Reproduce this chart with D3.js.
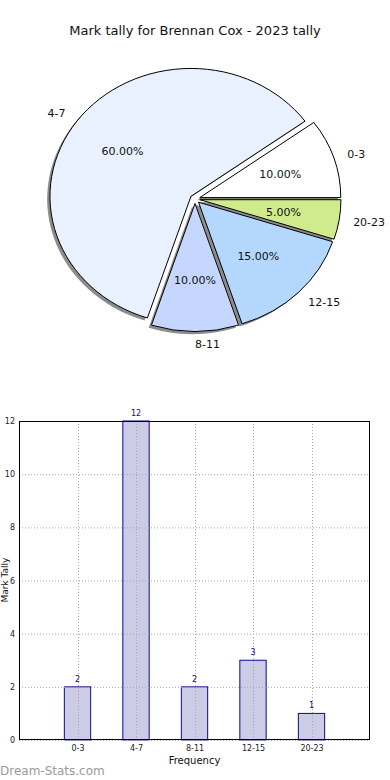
<!DOCTYPE html>
<html>
<head>
<meta charset="utf-8">
<script src="https://cdn.jsdelivr.net/npm/d3@7"></script>
<style>
  body { margin: 0; background: #fff; }
  svg { display: block; font-family: "DejaVu Sans", sans-serif; }
</style>
</head>
<body>
<div id="chart"></div>
<script>
const categories = ['0-3', '4-7', '8-11', '12-15', '20-23'];
const tallies = [2, 12, 2, 3, 1];
const sliceColors = ['#ffffff', '#eaf1fe', '#c5d7fe', '#b4d7fe', '#cfeb8b'];
const yTicks = [0, 2, 4, 6, 8, 10, 12];

const width = 390;
const height = 780;

const svg = d3.select('#chart')
  .append('svg')
  .attr('width', width)
  .attr('height', height);

svg.append('text')
  .attr('x', 195)
  .attr('y', 35)
  .attr('text-anchor', 'middle')
  .style('font-size', '13px')
  .style('fill', '#111')
  .text('Mark tally for Brennan Cox - 2023 tally');

// ---- pie (matplotlib style: starts at 3 o'clock, counter-clockwise, squashed) ----
const cx = 195, cy = 199;
const radius = 141;
const squash = 0.907;
const explode = 5;
const total = d3.sum(tallies);

// d3 angles: 0 at 12 o'clock clockwise. math angle a -> d3 angle PI/2 - a
const pie = d3.pie().sort(null).value(d => d)
  .startAngle(Math.PI / 2)
  .endAngle(Math.PI / 2 - 2 * Math.PI);

const arcs = pie(tallies);
const arc = d3.arc().innerRadius(0).outerRadius(radius);

const pieG = svg.append('g');

function midMath(d) {
  const m = (d.startAngle + d.endAngle) / 2;
  return Math.PI / 2 - m;
}

function offset(d, dist) {
  const a = midMath(d);
  return [cx + dist * Math.cos(a), cy - dist * Math.sin(a) * squash];
}

// shadows first
pieG.selectAll('.shadow')
  .data(arcs)
  .enter()
  .append('path')
  .attr('class', 'shadow')
  .attr('transform', d => {
    const [x, y] = offset(d, explode);
    return `translate(${x - 2.8}, ${y + 2.6}) scale(1, ${squash})`;
  })
  .attr('d', arc)
  .attr('fill', '#000')
  .attr('opacity', 0.45);

pieG.selectAll('.slice')
  .data(arcs)
  .enter()
  .append('path')
  .attr('class', 'slice')
  .attr('transform', d => {
    const [x, y] = offset(d, explode);
    return `translate(${x}, ${y}) scale(1, ${squash})`;
  })
  .attr('d', arc)
  .attr('fill', (d, i) => sliceColors[i])
  .attr('stroke', '#000')
  .attr('stroke-width', 1)
  .attr('vector-effect', 'non-scaling-stroke');

pieG.selectAll('.label')
  .data(arcs)
  .enter()
  .append('text')
  .attr('class', 'label')
  .attr('x', d => offset(d, radius * 1.1 + explode)[0])
  .attr('y', d => offset(d, radius * 1.1 + explode)[1])
  .attr('dy', '0.35em')
  .attr('text-anchor', d => Math.cos(midMath(d)) > -1e-6 ? 'start' : 'end')
  .style('font-size', '11px')
  .style('fill', '#111')
  .text((d, i) => categories[i]);

pieG.selectAll('.pct')
  .data(arcs)
  .enter()
  .append('text')
  .attr('class', 'pct')
  .attr('x', d => offset(d, radius * 0.6 + explode)[0])
  .attr('y', d => offset(d, radius * 0.6 + explode)[1])
  .attr('dy', '0.35em')
  .attr('text-anchor', 'middle')
  .style('font-size', '11px')
  .style('fill', '#111')
  .text(d => (d.value / total * 100).toFixed(2) + '%');

// ---- bar chart ----
const plot = { left: 19, right: 370, top: 421, bottom: 740 };

const x = d3.scaleLinear()
  .domain([0, categories.length + 1])
  .range([plot.left, plot.right]);

const y = d3.scaleLinear()
  .domain([0, 12])
  .range([plot.bottom, plot.top]);

const barG = svg.append('g');

const barW = x(0.45) - x(0);

barG.selectAll('.bar')
  .data(tallies)
  .enter()
  .append('rect')
  .attr('class', 'bar')
  .attr('x', (d, i) => x(i + 1) - barW / 2)
  .attr('y', d => y(d))
  .attr('width', barW)
  .attr('height', d => y(0) - y(d))
  .attr('fill', '#cccce6')
  .attr('stroke', '#0b0b8a')
  .attr('stroke-width', 1);

// dotted grid, drawn over the bars
barG.selectAll('.xgrid')
  .data(categories)
  .enter()
  .append('line')
  .attr('x1', (d, i) => Math.round(x(i + 1)) + 0.5)
  .attr('x2', (d, i) => Math.round(x(i + 1)) + 0.5)
  .attr('y1', plot.top)
  .attr('y2', plot.bottom)
  .attr('stroke', '#a8a8b0')
  .attr('stroke-width', 1)
  .attr('stroke-dasharray', '1,2');

barG.selectAll('.ygrid')
  .data(yTicks)
  .enter()
  .append('line')
  .attr('x1', plot.left)
  .attr('x2', plot.right)
  .attr('y1', d => y(d) + 0.5)
  .attr('y2', d => y(d) + 0.5)
  .attr('stroke', '#a8a8b0')
  .attr('stroke-width', 1)
  .attr('stroke-dasharray', '1,2');

barG.selectAll('.val')
  .data(tallies)
  .enter()
  .append('text')
  .attr('x', (d, i) => x(i + 1))
  .attr('y', d => y(d) - 5)
  .attr('text-anchor', 'middle')
  .style('font-size', '8px')
  .style('fill', '#0b0b8a')
  .text(d => d);

// frame
barG.append('rect')
  .attr('x', plot.left + 0.5)
  .attr('y', plot.top + 0.5)
  .attr('width', plot.right - plot.left - 1)
  .attr('height', plot.bottom - plot.top - 1)
  .attr('fill', 'none')
  .attr('stroke', '#000')
  .attr('stroke-width', 1);

// axes labels
const yAxis = d3.axisLeft(y).tickValues(yTicks).tickSize(0).tickPadding(4);
barG.append('g')
  .attr('transform', `translate(${plot.left},0)`)
  .call(yAxis)
  .call(g => g.select('.domain').remove())
  .call(g => g.selectAll('text').style('font-size', '8px').style('fill', '#222').style('font-family', '"DejaVu Sans", sans-serif'));

const xAxis = d3.axisBottom(x)
  .tickValues(d3.range(1, categories.length + 1))
  .tickFormat(d => categories[d - 1])
  .tickSize(0)
  .tickPadding(5);
barG.append('g')
  .attr('transform', `translate(0,${plot.bottom})`)
  .call(xAxis)
  .call(g => g.select('.domain').remove())
  .call(g => g.selectAll('text').style('font-size', '8px').style('fill', '#222').style('font-family', '"DejaVu Sans", sans-serif'));

svg.append('text')
  .attr('x', (plot.left + plot.right) / 2)
  .attr('y', 764)
  .attr('text-anchor', 'middle')
  .style('font-size', '10px')
  .style('fill', '#111')
  .text('Frequency');

svg.append('text')
  .attr('transform', 'translate(8, 580) rotate(-90)')
  .attr('text-anchor', 'middle')
  .style('font-size', '9px')
  .style('fill', '#111')
  .text('Mark Tally');

svg.append('text')
  .attr('x', 0)
  .attr('y', 775)
  .style('font-size', '12px')
  .style('fill', '#9a9a9a')
  .text('Dream-Stats.com');
</script>
</body>
</html>
